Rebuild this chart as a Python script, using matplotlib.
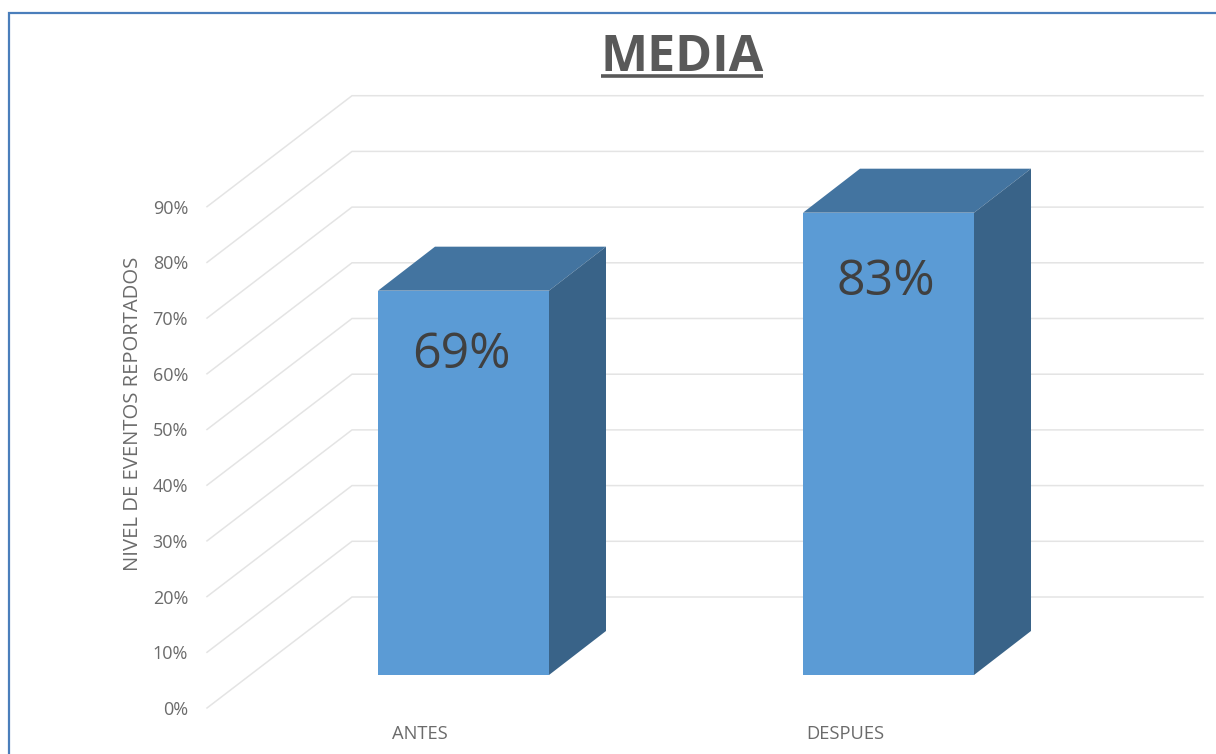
import matplotlib
matplotlib.use("Agg")
import matplotlib.pyplot as plt
from matplotlib.patches import Polygon

categories = ["ANTES", "DESPUES"]
values = [69, 83]
value_labels = ["69%", "83%"]
ticks = [0, 10, 20, 30, 40, 50, 60, 70, 80, 90]
tick_labels = ["0%", "10%", "20%", "30%", "40%", "50%", "60%", "70%", "80%", "90%"]

W, H = 1216, 754
FONT = "Open Sans"
TEXT = "#6b6b6b"
GRID = "#e4e4e4"
FRONT = "#5b9bd5"
TOP = "#4374a0"
SIDE = "#396388"
BORDER = "#4a7ebb"

# Horizontal axis is in figure pixels, vertical axis is in percent.
PX_PER_PCT = 5.57
Y0_PX = 708.0
fig = plt.figure(figsize=(W / 100, H / 100), dpi=100, facecolor="white")
ax = fig.add_axes([0, 0, 1, 1])
ax.set_xlim(0, W)
ax.set_ylim(-(H - Y0_PX) / PX_PER_PCT, Y0_PX / PX_PER_PCT)
ax.axis("off")

pct = lambda px: px / PX_PER_PCT

# Oblique projection of the floor and back wall
WALL_DX, WALL_DY = 145, pct(111)
FLOOR_X = 207
GRID_END = 1203
for t, lab in zip(ticks, tick_labels):
    ax.plot([FLOOR_X, FLOOR_X + WALL_DX, GRID_END],
            [t, t + WALL_DY, t + WALL_DY],
            color=GRID, lw=1.1, solid_joinstyle="miter", zorder=1)
    ax.text(188, t - pct(2), lab, ha="right", va="center", family=FONT,
            fontsize=13, color=TEXT)

# Three-dimensional columns
BAR_LEFT = [378, 803]
BAR_W = 171
BAR_BASE = pct(33)
DEPTH_DX, DEPTH_DY = 57, pct(44)
LABEL_DROP = [65, 70]
for left, v, cat, lab, drop in zip(BAR_LEFT, values, categories, value_labels, LABEL_DROP):
    right = left + BAR_W
    top = BAR_BASE + v
    ax.add_patch(Polygon([(left, BAR_BASE), (right, BAR_BASE), (right, top), (left, top)],
                         closed=True, fc=FRONT, ec="none", zorder=3))
    ax.add_patch(Polygon([(left, top), (right, top),
                          (right + DEPTH_DX, top + DEPTH_DY), (left + DEPTH_DX, top + DEPTH_DY)],
                         closed=True, fc=TOP, ec="none", zorder=3))
    ax.add_patch(Polygon([(right, BAR_BASE), (right + DEPTH_DX, BAR_BASE + DEPTH_DY),
                          (right + DEPTH_DX, top + DEPTH_DY), (right, top)],
                         closed=True, fc=SIDE, ec="none", zorder=3))
    ax.text(left + BAR_W * 0.485, top - pct(drop), lab, ha="center", va="center",
            family=FONT, fontsize=36, color="#404040", zorder=4)
    ax.text(left + 42, -pct(26), cat, ha="center", va="center",
            family=FONT, fontsize=13.2, color=TEXT)

ax.text(133, pct(Y0_PX - 414), "NIVEL DE EVENTOS REPORTADOS", rotation=90,
        ha="center", va="center", family=FONT, fontsize=14.6, color=TEXT)

# Title with its underline
ax.text(682, pct(Y0_PX - 58), "MEDIA", ha="center", va="center", family=FONT,
        fontweight="bold", fontsize=36, color="#595959")
ax.plot([601, 763], [pct(Y0_PX - 76)] * 2, color="#595959", lw=2.6, solid_capstyle="butt")

# Chart-area outline along the top and left edges
ax.plot([8.5, 8.5, W], [-(H - Y0_PX) / PX_PER_PCT, pct(Y0_PX - 13), pct(Y0_PX - 13)],
        color=BORDER, lw=1.6, solid_joinstyle="miter")

fig.savefig("out.png", dpi=100)
